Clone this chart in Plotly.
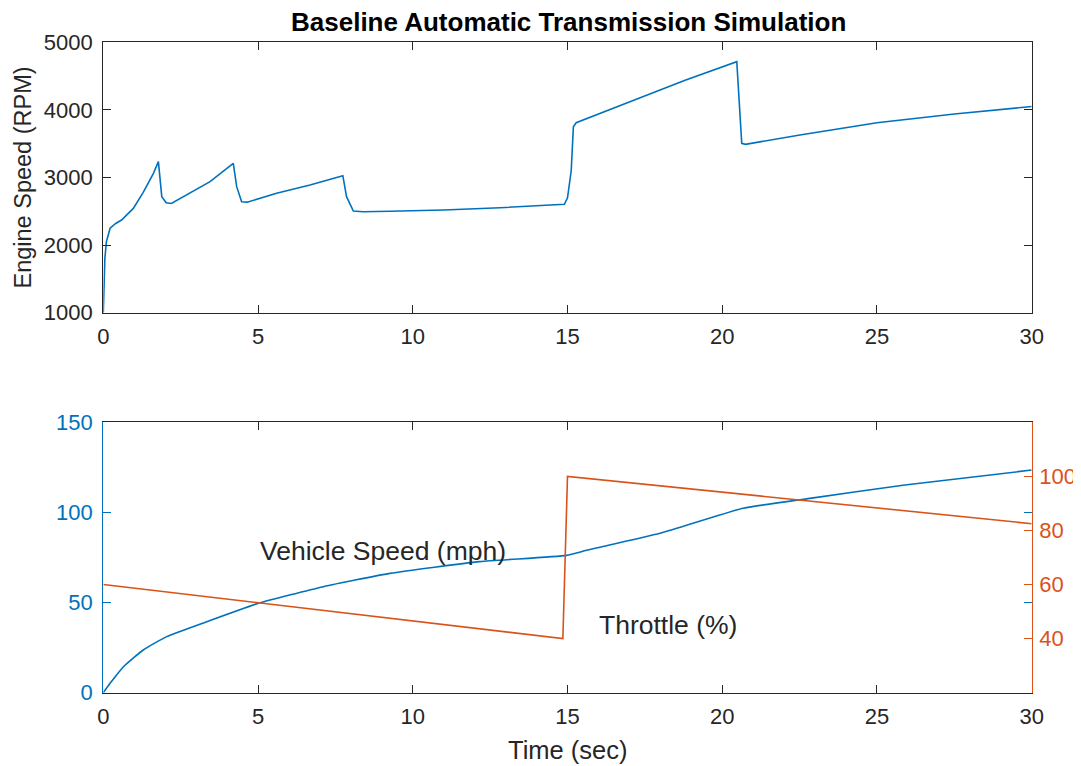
import plotly.graph_objects as go

# ---------------- data ----------------
time_rpm = [0, 0.05, 0.1, 0.22, 0.4, 0.59, 0.97, 1.29, 1.62, 1.78, 1.89, 2.03, 2.2,
            2.8, 3.45, 4.2, 4.31, 4.47, 4.65, 5.6, 6.68, 7.74, 7.86, 8.08, 8.4,
            9.26, 11.0, 12.82, 14.9, 15.0, 15.08, 15.12, 15.19, 15.28, 17.12,
            18.8, 20.47, 20.63, 20.75, 22.51, 25.0, 27.5, 30.0]
engine_rpm = [1000, 1800, 2050, 2250, 2320, 2371, 2543, 2780, 3061, 3234, 2716, 2627, 2615,
              2766, 2939, 3210, 2864, 2642, 2635, 2766, 2889, 3027, 2716, 2504, 2494,
              2500, 2520, 2553, 2604, 2700, 2938, 3100, 3750, 3810, 4140,
              4440, 4713, 3506, 3490, 3629, 3810, 3940, 4050]

time_speed = [0, 0.22, 0.43, 0.65, 1.29, 2.05, 3.34, 5.01, 7.11, 9.26, 12.17,
              14.97, 15.62, 17.99, 20.68, 22.83, 25.9, 30]
vehicle_speed = [0, 5.2, 9.8, 14.4, 23.7, 31.1, 39.4, 49.6, 58.8, 66.2, 72.7,
                 76.2, 79.0, 88.4, 102.3, 107.8, 115.2, 123.5]

time_throttle = [0, 14.85, 15.0, 30]
throttle = [60, 40, 100, 82.5]

x_ticks = [0, 5, 10, 15, 20, 25, 30]
rpm_ticks = [1000, 2000, 3000, 4000, 5000]
speed_ticks = [0, 50, 100, 150]
throttle_ticks = [40, 60, 80, 100]

# ---------------- style ----------------
BLUE = "#0072BD"
ORANGE = "#D95319"
DARK = "#262626"
FONT = "Liberation Sans, Arial, sans-serif"
PAGE_W, PAGE_H = 1081, 766
OFF = 8  # default page body margin
W, H = PAGE_W - OFF, PAGE_H - OFF


def px_x(p):
    return (p - OFF) / W


def px_y(p):
    return (PAGE_H - p) / H


xdom = [px_x(103.3), px_x(1031.7)]
ydom_top = [px_y(312.7), px_y(42.3)]
ydom_bot = [px_y(692.7), px_y(422.3)]

fig = go.Figure()
fig.add_trace(go.Scatter(x=time_rpm, y=engine_rpm, mode="lines",
                         line=dict(color=BLUE, width=1.6), xaxis="x", yaxis="y",
                         showlegend=False, hoverinfo="skip"))
fig.add_trace(go.Scatter(x=time_speed, y=vehicle_speed, mode="lines",
                         line=dict(color=BLUE, width=1.6, shape="spline", smoothing=0.5),
                         xaxis="x2", yaxis="y2", showlegend=False, hoverinfo="skip"))
fig.add_trace(go.Scatter(x=time_throttle, y=throttle, mode="lines",
                         line=dict(color=ORANGE, width=1.6), xaxis="x2", yaxis="y3",
                         showlegend=False, hoverinfo="skip"))

TICK = 22
common_x = dict(range=[0, 30], tickvals=x_ticks, ticks="inside", ticklen=8,
                tickwidth=1, showline=True, linewidth=1.2, mirror="ticks",
                showgrid=False, zeroline=False, domain=xdom, ticklabelstandoff=4,
                tickfont=dict(size=TICK, color=DARK, family=FONT),
                linecolor=DARK, tickcolor=DARK)

fig.update_layout(
    width=W, height=H,
    margin=dict(l=0, r=0, t=0, b=0, autoexpand=False),
    paper_bgcolor="white", plot_bgcolor="white",
    font=dict(family=FONT, color=DARK),
    xaxis=dict(anchor="y", **common_x),
    yaxis=dict(anchor="x", domain=ydom_top, range=[1000, 5000], tickvals=rpm_ticks,
               ticks="inside", ticklen=8, tickwidth=1, showline=True, linewidth=1.2,
               mirror="ticks", showgrid=False, zeroline=False, ticklabelstandoff=5,
               linecolor=DARK, tickcolor=DARK,
               tickfont=dict(size=TICK, color=DARK, family=FONT)),
    xaxis2=dict(anchor="y2", **common_x),
    yaxis2=dict(anchor="x2", domain=ydom_bot, range=[0, 150], tickvals=speed_ticks,
                ticks="inside", ticklen=8, tickwidth=1, showline=True, linewidth=1.2,
                mirror="ticks", showgrid=False, zeroline=False, ticklabelstandoff=5,
                linecolor=BLUE, tickcolor=BLUE,
                tickfont=dict(size=TICK, color=BLUE, family=FONT)),
    yaxis3=dict(anchor="x2", overlaying="y2", side="right", range=[20, 120],
                tickvals=throttle_ticks, ticks="inside", ticklen=8, tickwidth=1,
                showline=True, linewidth=1.2, showgrid=False, zeroline=False,
                linecolor=ORANGE, tickcolor=ORANGE, ticklabelstandoff=2,
                tickfont=dict(size=TICK, color=ORANGE, family=FONT)),
    annotations=[
        dict(text="<b>Baseline Automatic Transmission Simulation</b>", xref="paper", yref="paper",
             x=px_x(568.5), y=px_y(22), xanchor="center", yanchor="middle",
             showarrow=False, font=dict(size=26, color="black", family=FONT)),
        dict(text="Engine Speed (RPM)", xref="paper", yref="paper",
             x=px_x(23), y=px_y(177.5), xanchor="center", yanchor="middle", textangle=-90,
             showarrow=False, font=dict(size=23.5, color=DARK, family=FONT)),
        dict(text="Time (sec)", xref="paper", yref="paper",
             x=px_x(567.5), y=px_y(750), xanchor="center", yanchor="middle",
             showarrow=False, font=dict(size=25.5, color=DARK, family=FONT)),
        dict(text="Vehicle Speed (mph)", xref="x2", yref="y2", x=5.0, y=78.6,
             xanchor="left", yanchor="middle", showarrow=False,
             font=dict(size=26.5, color=DARK, family=FONT)),
        dict(text="Throttle (%)", xref="x2", yref="y3", x=15.95, y=45,
             xanchor="left", yanchor="middle", showarrow=False,
             font=dict(size=26.5, color=DARK, family=FONT)),
    ],
)

fig.write_html("out.html")
